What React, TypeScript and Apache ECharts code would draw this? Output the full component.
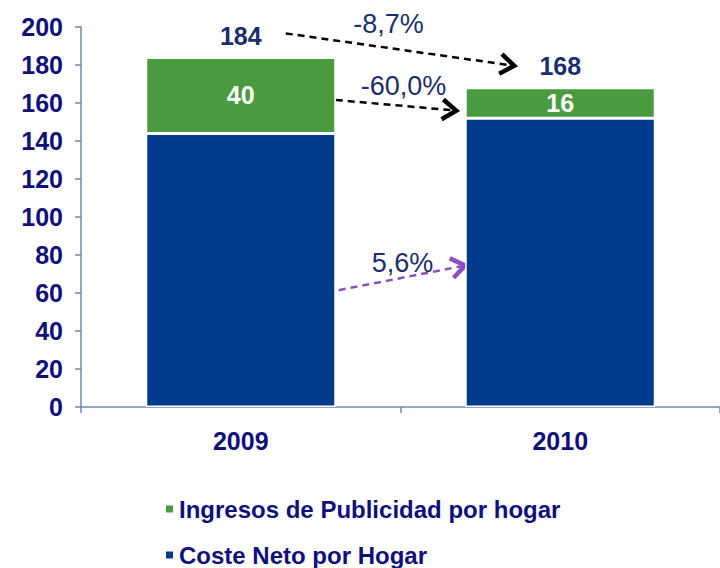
import React, { useEffect, useRef } from "react";
import * as echarts from "echarts";

const categories = ["2009", "2010"];
const costeNeto = [144, 152];
const ingresosPublicidad = [40, 16];
const totals = [184, 168];
const changeTotal = "-8,7%";
const changeIngresos = "-60,0%";
const changeCoste = "5,6%";
const yTicks = [0, 20, 40, 60, 80, 100, 120, 140, 160, 180, 200];

const FONT = "'Liberation Sans', Arial, sans-serif";
const NAVY = "#10107a";
const LABEL_NAVY = "#1b2f6e";
const BLUE = "#003a8c";
const GREEN = "#4a9b3f";
const PURPLE = "#8a4fc0";

function arrow(x1: number, y1: number, x2: number, y2: number, color: string) {
  const ang = Math.atan2(y2 - y1, x2 - x1);
  const len = 17;
  const spread = 0.62;
  const a1 = ang + Math.PI - spread;
  const a2 = ang + Math.PI + spread;
  return [
    {
      type: "line",
      shape: { x1, y1, x2, y2 },
      style: { stroke: color, lineWidth: 2.5, lineDash: [7, 5] },
      silent: true,
    },
    {
      type: "polyline",
      shape: {
        points: [
          [x2 + len * Math.cos(a1), y2 + len * Math.sin(a1)],
          [x2, y2],
          [x2 + len * Math.cos(a2), y2 + len * Math.sin(a2)],
        ],
      },
      style: { stroke: color, lineWidth: 4.5, fill: null, lineJoin: "miter" },
      silent: true,
    },
  ];
}

export default function App() {
  const ref = useRef<HTMLDivElement>(null);
  useEffect(() => {
    if (!ref.current) return;
    const chart = echarts.init(ref.current, null, { renderer: "svg" });
    chart.setOption({
      animation: false,
      backgroundColor: "#ffffff",
      grid: { left: 81, top: 27, right: -6, bottom: 161, containLabel: false },
      legend: {
        orient: "vertical",
        left: 164,
        top: 497,
        height: 100,
        padding: 0,
        itemWidth: 9,
        itemHeight: 9,
        itemGap: 22,
        icon: "rect",
        data: ["Ingresos de Publicidad por hogar", "Coste Neto por Hogar"],
        textStyle: { color: NAVY, fontSize: 24, fontWeight: "bold", fontFamily: FONT },
      },
      xAxis: {
        type: "category",
        data: categories,
        axisLine: { lineStyle: { color: "#6f86b5", width: 1.5 } },
        axisTick: { show: true, length: 6, lineStyle: { color: "#6f86b5", width: 1.5 } },
        axisLabel: { color: NAVY, fontSize: 25, fontWeight: "bold", fontFamily: FONT, margin: 21 },
      },
      yAxis: {
        type: "value",
        min: yTicks[0],
        max: yTicks[yTicks.length - 1],
        interval: 20,
        splitLine: { show: false },
        axisLine: { show: true, lineStyle: { color: "#6f86b5", width: 1.5 } },
        axisTick: { show: true, length: 6, lineStyle: { color: "#6f86b5", width: 1.5 } },
        axisLabel: { color: NAVY, fontSize: 25, fontWeight: "bold", fontFamily: FONT, margin: 18 },
      },
      series: [
        {
          name: "Coste Neto por Hogar",
          type: "bar",
          stack: "s",
          barWidth: 190,
          data: costeNeto,
          itemStyle: { color: BLUE, borderColor: "#ffffff", borderWidth: 1.5 },
        },
        {
          name: "Ingresos de Publicidad por hogar",
          type: "bar",
          stack: "s",
          barWidth: 190,
          data: ingresosPublicidad,
          itemStyle: { color: GREEN, borderColor: "#ffffff", borderWidth: 1.5 },
          label: {
            show: true,
            position: "inside",
            color: "#ffffff",
            fontSize: 25,
            fontWeight: "bold",
            fontFamily: FONT,
          },
        },
        {
          name: "total",
          type: "bar",
          stack: "s",
          barWidth: 190,
          data: totals.map(() => 0),
          itemStyle: { color: "transparent" },
          label: {
            show: true,
            position: "top",
            distance: 9,
            formatter: (p: any) => String(totals[p.dataIndex]),
            color: LABEL_NAVY,
            fontSize: 25,
            fontWeight: "bold",
            fontFamily: FONT,
          },
        },
      ],
    });

    const px = (cat: number, v: number) =>
      chart.convertToPixel({ gridIndex: 0 }, [cat, v]) as number[];
    const halfBar = 95;
    const c0 = px(0, 0)[0];
    const c1 = px(1, 0)[0];
    const mid = (c0 + c1) / 2;
    const yTop0 = px(0, totals[0])[1];
    const yTop1 = px(1, totals[1])[1];
    const yG0 = px(0, costeNeto[0] + ingresosPublicidad[0] * 0.44)[1];
    const yG1 = px(1, costeNeto[1] + ingresosPublicidad[1] * 0.25)[1];
    const yC0 = px(0, 61.5)[1];
    const yC1 = px(1, 74.5)[1];

    const label = (text: string, x: number, y: number) => ({
      type: "text",
      x,
      y,
      silent: true,
      z: 10,
      style: {
        text,
        fill: LABEL_NAVY,
        fontSize: 27,
        fontFamily: FONT,
        align: "center",
        verticalAlign: "middle",
      },
    });

    chart.setOption({
      graphic: [
        ...arrow(c0 + 45, yTop0 - 24, c1 - 46, yTop1 - 22, "#000000"),
        ...arrow(c0 + halfBar, yG0, c1 - halfBar - 9, yG1, "#000000"),
        ...arrow(c0 + halfBar + 3, yC0, c1 - halfBar, yC1, PURPLE),
        label(changeTotal, mid - 12, 24),
        label(changeIngresos, mid + 3, 86),
        label(changeCoste, mid + 2, 263),
      ],
    });

    return () => chart.dispose();
  }, []);
  return (
    <div
      ref={ref}
      style={{ position: "absolute", left: 0, top: 0, width: 720, height: 568 }}
    />
  );
}
